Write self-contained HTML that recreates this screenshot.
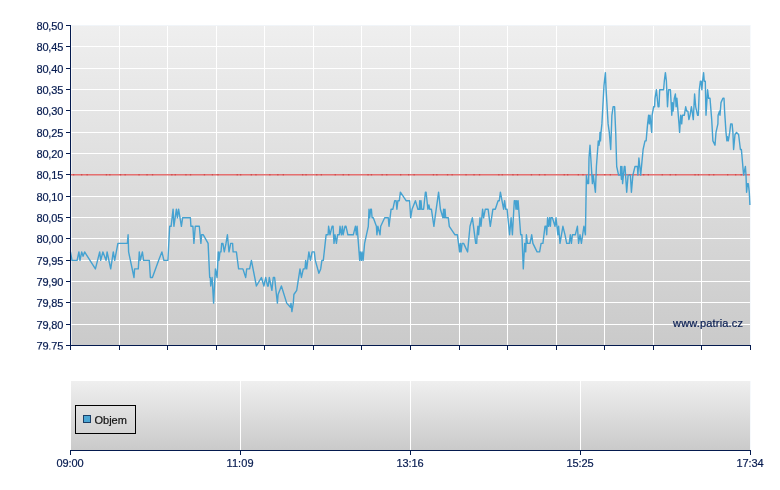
<!DOCTYPE html>
<html lang="cs"><head><meta charset="utf-8"><title>Graf</title>
<style>html,body{margin:0;padding:0;background:#fff}svg{display:block;will-change:transform}text{font-family:"Liberation Sans",Arial,sans-serif;font-size:11px;fill:#061b50;stroke:#061b50;stroke-width:0.2px}</style></head><body>
<svg width="780" height="490" viewBox="0 0 780 490">
<defs><linearGradient id="g1" x1="0" y1="0" x2="0" y2="1"><stop offset="0" stop-color="#efefef"/><stop offset="1" stop-color="#cacaca"/></linearGradient><linearGradient id="g2" x1="0" y1="0" x2="0" y2="1"><stop offset="0" stop-color="#efefef"/><stop offset="1" stop-color="#cacaca"/></linearGradient><clipPath id="cl"><rect x="0" y="0" width="780" height="349.5"/></clipPath></defs>
<rect width="780" height="490" fill="#fff"/>
<rect x="71" y="25" width="679" height="320" fill="url(#g1)"/>
<rect x="71" y="381" width="679" height="69" fill="url(#g2)"/>
<g shape-rendering="crispEdges" fill="#fff"><rect x="71" y="25" width="679" height="1"/><rect x="71" y="46" width="679" height="1"/><rect x="71" y="68" width="679" height="1"/><rect x="71" y="89" width="679" height="1"/><rect x="71" y="110" width="679" height="1"/><rect x="71" y="132" width="679" height="1"/><rect x="71" y="153" width="679" height="1"/><rect x="71" y="174" width="679" height="1"/><rect x="71" y="196" width="679" height="1"/><rect x="71" y="217" width="679" height="1"/><rect x="71" y="238" width="679" height="1"/><rect x="71" y="260" width="679" height="1"/><rect x="71" y="281" width="679" height="1"/><rect x="71" y="302" width="679" height="1"/><rect x="71" y="324" width="679" height="1"/><rect x="71" y="25" width="1" height="320" opacity="0.6"/><rect x="119" y="25" width="1" height="320"/><rect x="167" y="25" width="1" height="320"/><rect x="216" y="25" width="1" height="320"/><rect x="264" y="25" width="1" height="320"/><rect x="313" y="25" width="1" height="320"/><rect x="361" y="25" width="1" height="320"/><rect x="410" y="25" width="1" height="320"/><rect x="459" y="25" width="1" height="320"/><rect x="507" y="25" width="1" height="320"/><rect x="556" y="25" width="1" height="320"/><rect x="604" y="25" width="1" height="320"/><rect x="653" y="25" width="1" height="320"/><rect x="701" y="25" width="1" height="320"/><rect x="240" y="381" width="1" height="69"/><rect x="410" y="381" width="1" height="69"/><rect x="580" y="381" width="1" height="69"/><rect x="71" y="25" width="680" height="1" fill="#f1f5f9"/><rect x="750" y="25" width="1" height="320" fill="#f6f9fc"/><rect x="750" y="381" width="1" height="69" fill="#f6f9fc"/></g>
<line x1="71" y1="174.85" x2="750" y2="174.85" stroke="#e05050" stroke-width="1.5" opacity="0.82"/>
<line x1="73" y1="174.85" x2="750" y2="174.85" stroke="#c03030" stroke-width="1.5" opacity="0.55" stroke-dasharray="1.3 6.7 1.3 4.2 1.3 18 1.3 2.1 1.3 9.4 1.3 3.3 1.3 12.6"/>
<polyline fill="none" stroke="#45a2d1" stroke-width="1.4" stroke-linejoin="round" points="70.5,251.9 72.0,260.4 77.1,260.4 78.9,251.9 80.0,260.4 81.7,251.9 83.1,256.2 84.6,251.9 95.4,268.9 99.7,251.9 100.7,260.4 102.9,251.9 106.1,260.4 107.1,251.9 110.7,268.9 113.3,251.9 114.7,260.4 117.9,243.4 127.4,243.4 128.1,234.8 128.6,251.9 134.0,277.5 134.6,268.9 138.3,268.9 139.3,251.9 140.3,260.4 142.4,251.9 143.6,260.4 149.3,260.4 150.4,277.5 152.4,277.5 158.6,260.4 161.9,251.9 163.9,260.4 167.9,260.4 169.7,226.3 171.1,226.3 173.1,209.2 173.9,226.3 176.4,209.2 177.4,217.8 178.6,209.2 181.4,226.3 182.6,217.8 190.4,217.8 190.9,226.3 192.9,226.3 193.9,243.4 195.3,226.3 199.3,226.3 200.9,243.4 201.6,234.8 203.3,234.8 208.1,243.4 209.7,277.5 210.3,277.5 210.7,286.0 212.1,277.5 213.6,303.1 215.4,268.9 217.1,277.5 218.3,251.9 219.0,260.4 220.0,251.9 221.0,251.9 221.7,243.4 222.9,243.4 224.3,251.9 226.0,243.4 227.4,234.8 229.0,251.9 230.7,243.4 232.6,243.4 233.1,251.9 236.4,251.9 238.6,268.9 242.9,268.9 245.7,277.5 246.7,268.9 249.6,268.9 251.4,260.4 256.4,286.0 261.4,277.5 263.9,286.0 265.7,277.5 267.6,286.0 268.3,286.0 269.3,277.5 271.9,290.3 273.3,277.5 274.6,277.5 276.4,294.5 277.4,303.1 278.1,294.5 281.4,286.0 286.7,303.1 290.4,307.3 291.0,303.1 291.9,311.6 293.3,303.1 293.9,294.5 296.7,290.3 300.0,268.9 301.4,277.5 303.3,268.9 305.0,268.9 305.7,260.4 306.7,268.9 308.9,251.9 310.4,260.4 312.1,251.9 314.3,251.9 315.3,260.4 318.9,273.2 320.7,268.9 321.9,260.4 323.3,260.4 326.1,234.8 328.1,234.8 328.6,226.3 330.0,234.8 332.1,226.3 333.1,226.3 334.0,243.4 335.0,234.8 336.4,243.4 337.6,234.8 339.3,234.8 340.0,226.3 341.4,234.8 342.4,226.3 343.1,234.8 345.0,226.3 346.0,226.3 347.9,234.8 353.3,234.8 355.4,226.3 356.4,234.8 357.1,226.3 359.7,260.4 360.4,251.9 361.4,260.4 362.1,251.9 363.1,260.4 364.6,243.4 368.3,226.3 369.0,209.2 369.7,217.8 370.7,209.2 371.4,209.2 372.1,217.8 373.3,217.8 376.4,226.3 376.9,234.8 377.9,226.3 380.0,234.8 380.7,226.3 384.7,217.8 388.3,217.8 389.0,226.3 391.1,209.2 392.9,209.2 394.7,200.7 396.1,200.7 396.9,209.2 397.9,200.7 399.3,200.7 400.4,192.2 406.1,200.7 409.6,200.7 410.7,217.8 412.1,209.2 415.4,200.7 417.9,209.2 419.3,209.2 419.7,200.7 420.3,209.2 421.0,200.7 421.7,209.2 423.6,209.2 425.4,192.2 426.1,192.2 427.9,209.2 428.9,205.0 429.7,209.2 431.4,209.2 433.9,226.3 435.0,217.8 438.6,192.2 440.4,209.2 442.9,217.8 443.6,209.2 444.3,217.8 445.0,209.2 445.7,217.8 448.3,217.8 449.3,226.3 455.0,234.8 457.4,234.8 459.6,251.9 460.3,243.4 461.1,251.9 462.1,243.4 463.6,243.4 467.6,251.9 470.0,226.3 472.4,217.8 475.7,243.4 476.7,243.4 477.1,234.8 477.9,226.3 478.6,234.8 480.0,217.8 481.0,226.3 482.6,209.2 483.6,217.8 485.3,209.2 488.1,209.2 490.3,226.3 492.9,209.2 495.3,209.2 498.1,200.7 499.3,200.7 500.4,192.2 503.6,209.2 504.6,200.7 505.7,209.2 507.1,209.2 509.6,234.8 511.1,217.8 512.4,234.8 514.3,200.7 515.3,200.7 516.0,209.2 516.7,200.7 517.4,209.2 518.1,200.7 520.7,234.8 521.9,234.8 523.3,268.9 524.7,243.4 525.7,251.9 526.4,234.8 527.4,243.4 530.0,243.4 531.7,234.8 532.9,243.4 537.1,251.9 539.6,251.9 541.1,243.4 542.9,243.4 545.0,226.3 546.1,226.3 546.7,234.8 547.6,217.8 548.6,226.3 549.6,217.8 550.4,226.3 551.0,217.8 552.4,217.8 555.0,226.3 556.0,217.8 557.9,234.8 558.6,226.3 560.0,243.4 562.9,226.3 565.0,234.8 566.7,243.4 569.3,243.4 570.3,234.8 571.4,243.4 572.4,234.8 575.3,234.8 577.4,226.3 578.6,243.4 580.0,234.8 581.4,243.4 583.9,226.3 585.4,234.8 586.4,175.1 587.6,183.6 588.6,183.6 589.0,158.0 590.0,145.2 592.4,183.6 593.3,175.1 594.3,183.6 595.4,192.2 596.4,166.5 598.3,140.9 599.0,145.2 599.6,140.9 600.0,132.4 600.5,140.9 601.0,132.4 601.9,123.9 604.0,85.5 605.4,72.7 606.1,89.8 608.1,123.9 609.3,132.4 610.7,149.5 611.9,115.3 613.1,106.8 614.6,106.8 615.7,132.4 616.7,166.5 618.6,175.1 620.4,175.1 620.7,166.5 621.4,179.3 621.9,166.5 622.6,183.6 624.3,166.5 625.0,166.5 626.7,192.2 628.1,175.1 630.4,175.1 631.4,192.2 632.9,175.1 635.0,166.5 637.4,166.5 637.9,175.1 638.9,158.0 640.7,175.1 643.1,149.5 645.0,140.9 646.1,140.9 647.6,123.9 648.6,115.3 649.3,123.9 650.0,115.3 651.7,132.4 652.1,115.3 653.6,106.8 654.6,106.8 655.0,98.3 656.4,89.8 658.1,106.8 659.0,106.8 659.7,89.8 663.6,89.8 664.3,81.2 665.4,72.7 666.4,81.2 667.5,106.8 668.6,89.8 670.4,89.8 671.8,115.3 672.4,102.6 673.1,111.1 674.3,98.3 675.4,94.0 676.1,106.8 676.9,98.3 679.0,123.9 679.6,132.4 680.7,115.3 681.7,123.9 682.4,115.3 684.3,115.3 685.7,106.8 686.7,111.1 687.9,111.1 688.9,119.6 690.0,115.3 691.4,106.8 692.1,111.1 693.3,119.6 694.6,94.0 695.7,106.8 697.6,115.3 698.3,115.3 699.3,89.8 700.4,81.2 701.1,81.2 701.9,89.8 702.6,81.2 703.6,72.7 704.3,81.2 705.3,81.2 706.0,115.3 707.6,89.8 708.6,98.3 710.0,98.3 711.7,119.6 712.9,140.9 715.0,145.2 716.0,132.4 717.9,123.9 718.1,115.3 719.6,111.1 720.0,115.3 721.0,102.6 722.9,98.3 724.0,98.3 724.6,111.1 726.0,132.4 726.9,140.9 727.4,136.7 728.3,140.9 729.7,132.4 730.7,123.9 732.1,123.9 732.9,132.4 733.6,149.5 735.0,134.5 736.5,132.4 738.6,134.5 740.4,149.5 741.4,149.5 743.6,175.1 745.4,166.5 746.0,175.1 746.6,192.2 747.4,183.6 748.3,183.6 749.3,192.2 749.9,205.0"/>
<g shape-rendering="crispEdges" fill="#041a4e"><rect x="70" y="25" width="1" height="325"/><rect x="70" y="345" width="681" height="1"/><rect x="66" y="25" width="4" height="1"/><rect x="66" y="46" width="4" height="1"/><rect x="66" y="68" width="4" height="1"/><rect x="66" y="89" width="4" height="1"/><rect x="66" y="110" width="4" height="1"/><rect x="66" y="132" width="4" height="1"/><rect x="66" y="153" width="4" height="1"/><rect x="66" y="174" width="4" height="1"/><rect x="66" y="196" width="4" height="1"/><rect x="66" y="217" width="4" height="1"/><rect x="66" y="238" width="4" height="1"/><rect x="66" y="260" width="4" height="1"/><rect x="66" y="281" width="4" height="1"/><rect x="66" y="302" width="4" height="1"/><rect x="66" y="324" width="4" height="1"/><rect x="66" y="345" width="4" height="1"/><rect x="119" y="345" width="1" height="5"/><rect x="167" y="345" width="1" height="5"/><rect x="216" y="345" width="1" height="5"/><rect x="264" y="345" width="1" height="5"/><rect x="313" y="345" width="1" height="5"/><rect x="361" y="345" width="1" height="5"/><rect x="410" y="345" width="1" height="5"/><rect x="459" y="345" width="1" height="5"/><rect x="507" y="345" width="1" height="5"/><rect x="556" y="345" width="1" height="5"/><rect x="604" y="345" width="1" height="5"/><rect x="653" y="345" width="1" height="5"/><rect x="701" y="345" width="1" height="5"/><rect x="750" y="345" width="1" height="5"/><rect x="70" y="450" width="681" height="1"/><rect x="70" y="450" width="1" height="5"/><rect x="240" y="450" width="1" height="5"/><rect x="410" y="450" width="1" height="5"/><rect x="580" y="450" width="1" height="5"/><rect x="750" y="450" width="1" height="5"/></g>
<g text-anchor="end"><text x="63.4" y="30" textLength="27" lengthAdjust="spacing">80,50</text><text x="63.4" y="51" textLength="27" lengthAdjust="spacing">80,45</text><text x="63.4" y="73" textLength="27" lengthAdjust="spacing">80,40</text><text x="63.4" y="94" textLength="27" lengthAdjust="spacing">80,35</text><text x="63.4" y="115" textLength="27" lengthAdjust="spacing">80,30</text><text x="63.4" y="137" textLength="27" lengthAdjust="spacing">80,25</text><text x="63.4" y="158" textLength="27" lengthAdjust="spacing">80,20</text><text x="63.4" y="179" textLength="27" lengthAdjust="spacing">80,15</text><text x="63.4" y="201" textLength="27" lengthAdjust="spacing">80,10</text><text x="63.4" y="222" textLength="27" lengthAdjust="spacing">80,05</text><text x="63.4" y="243" textLength="27" lengthAdjust="spacing">80,00</text><text x="63.4" y="265" textLength="27" lengthAdjust="spacing">79,95</text><text x="63.4" y="286" textLength="27" lengthAdjust="spacing">79,90</text><text x="63.4" y="307" textLength="27" lengthAdjust="spacing">79,85</text><text x="63.4" y="329" textLength="27" lengthAdjust="spacing">79,80</text><text x="63.4" y="350" textLength="27" lengthAdjust="spacing" clip-path="url(#cl)">79,75</text></g>
<g text-anchor="middle"><text x="70" y="467" textLength="27" lengthAdjust="spacing">09:00</text><text x="240" y="467" textLength="27" lengthAdjust="spacing">11:09</text><text x="410" y="467" textLength="27" lengthAdjust="spacing">13:16</text><text x="580" y="467" textLength="27" lengthAdjust="spacing">15:25</text><text x="750" y="467" textLength="27" lengthAdjust="spacing">17:34</text></g>
<text x="673" y="327" textLength="70" lengthAdjust="spacing">www.patria.cz</text>
<rect x="75.5" y="405.5" width="60" height="28" fill="none" stroke="#000" stroke-width="1" shape-rendering="crispEdges"/>
<rect x="83.5" y="415.5" width="7" height="7" fill="#4ba6d4" stroke="#1c3f66" stroke-width="1" shape-rendering="crispEdges"/>
<text x="94.5" y="424" style="fill:#111;stroke:#111">Objem</text>
</svg></body></html>
